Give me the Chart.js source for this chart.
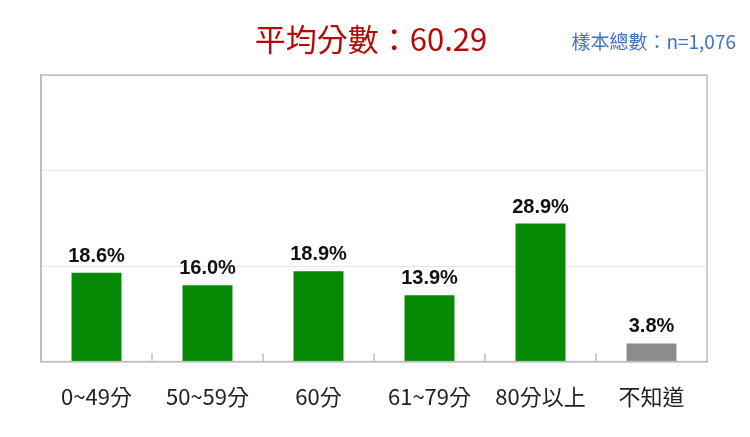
<!DOCTYPE html>
<html>
<head>
<meta charset="utf-8">
<script src="https://cdn.jsdelivr.net/npm/chart.js@4"></script>
<style>
  html, body { margin: 0; padding: 0; background: #fff; }
  #wrap { width: 750px; height: 437px; }
</style>
</head>
<body>
<div id="wrap"><canvas id="myChart" width="750" height="437"></canvas></div>
<script>
const categories = ['0~49分', '50~59分', '60分', '61~79分', '80分以上', '不知道'];
const values = [18.6, 16.0, 18.9, 13.9, 28.9, 3.8];
const barColors = ['#068a06', '#068a06', '#068a06', '#068a06', '#068a06', '#8c8c8c'];
const titleText = '平均分數：60.29';
const sampleText = '樣本總數：n=1,076';

const cjk = '"Noto Sans CJK TC", "Noto Sans", sans-serif';

// title, sample size, frame, small ticks and value labels
const decorations = {
  id: 'decorations',
  afterDraw(chart) {
    const ctx = chart.ctx;
    const area = chart.chartArea;
    const x = chart.scales.x;
    ctx.save();

    ctx.fillStyle = '#b40a0a';
    ctx.font = '31px ' + cjk;
    ctx.textAlign = 'center';
    ctx.textBaseline = 'middle';
    ctx.fillText(titleText, 371, 39);

    ctx.fillStyle = '#4472c4';
    ctx.font = '19px ' + cjk;
    ctx.textAlign = 'right';
    ctx.fillText(sampleText, 736, 42);

    ctx.strokeStyle = '#bdbdbd';
    ctx.lineWidth = 1.5;
    ctx.strokeRect(area.left, area.top, area.right - area.left, area.bottom - area.top);

    ctx.beginPath();
    for (let i = 1; i < categories.length; i++) {
      const px = (x.getPixelForValue(i - 1) + x.getPixelForValue(i)) / 2;
      ctx.moveTo(px, area.bottom);
      ctx.lineTo(px, area.bottom - 8);
    }
    ctx.stroke();

    const meta = chart.getDatasetMeta(0);
    ctx.fillStyle = '#111';
    ctx.font = 'bold 20px "Liberation Sans", Arial, sans-serif';
    ctx.textAlign = 'center';
    ctx.textBaseline = 'alphabetic';
    meta.data.forEach((bar, i) => {
      ctx.fillText(values[i].toFixed(1) + '%', bar.x, bar.y - 11);
    });
    ctx.restore();
  }
};

const ctx = document.getElementById('myChart').getContext('2d');
const myChart = new Chart(ctx, {
  type: 'bar',
  data: {
    labels: categories,
    datasets: [{
      data: values,
      backgroundColor: barColors,
      barPercentage: 0.45,
      categoryPercentage: 1.0
    }]
  },
  options: {
    responsive: false,
    animation: false,
    layout: { padding: { left: 41, right: 43, top: 75, bottom: 5 } },
    plugins: {
      legend: { display: false },
      tooltip: { enabled: false }
    },
    scales: {
      x: {
        grid: { display: false, drawTicks: false },
        border: { display: true, color: '#bdbdbd', width: 1.5 },
        ticks: { color: '#222', font: { family: cjk, size: 22 }, padding: 22 }
      },
      y: {
        min: 0,
        max: 60,
        ticks: { display: false, stepSize: 20 },
        grid: { color: '#e6e6e6', drawTicks: false },
        border: { display: true, color: '#bdbdbd', width: 1.5 }
      }
    }
  },
  plugins: [decorations]
});
</script>
</body>
</html>
